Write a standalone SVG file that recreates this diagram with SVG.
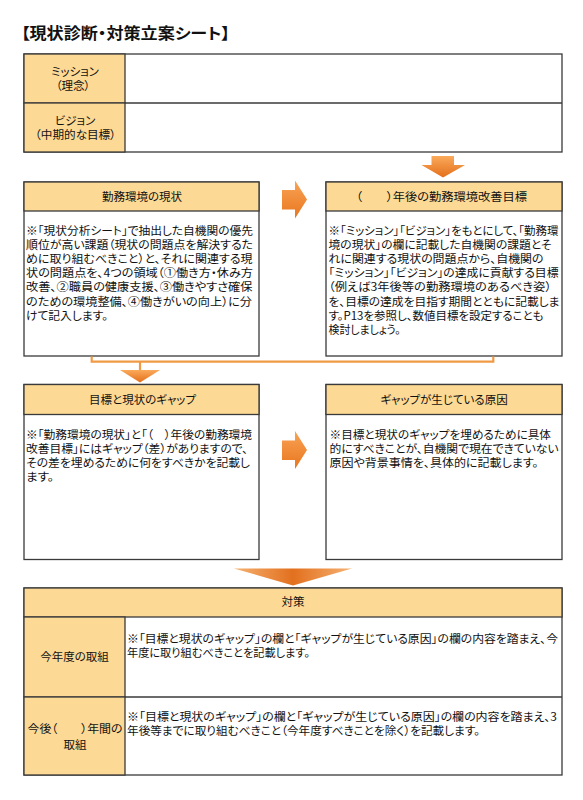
<svg xmlns="http://www.w3.org/2000/svg" width="583" height="800" viewBox="0 0 583 800">
<style>
text{font-family:"Noto Sans CJK JP","Noto Sans",sans-serif;fill:#111;font-feature-settings:"palt";}
.t{font-size:15.5px;font-weight:bold;}
.h{font-size:11.5px;text-anchor:middle;}
.b{font-size:11.5px;}
.box{fill:#fff;stroke:#3a3a3a;stroke-width:1.3;}
.hd{fill:#FCD995;stroke:#3a3a3a;stroke-width:1.3;}
.ln{fill:none;stroke:#3a3a3a;stroke-width:1.3;}
.con{fill:none;stroke:#F09A45;stroke-width:2.2;}
</style>
<defs>
<linearGradient id="gv" x1="0" y1="0" x2="0" y2="1"><stop offset="0" stop-color="#FAAA5C"/><stop offset="1" stop-color="#E46F1A"/></linearGradient>
<linearGradient id="gh" x1="0" y1="0" x2="0" y2="1"><stop offset="0" stop-color="#F9A355"/><stop offset="1" stop-color="#E8761F"/></linearGradient>
<linearGradient id="gb" x1="0" y1="0" x2="1" y2="0"><stop offset="0" stop-color="#F6B272"/><stop offset="0.5" stop-color="#E2701E"/><stop offset="1" stop-color="#F6B272"/></linearGradient>
</defs>
<rect width="583" height="800" fill="#fff"/>
<text class="t" x="21" y="39" textLength="209" lengthAdjust="spacingAndGlyphs">【現状診断・対策立案シート】</text>

<g id="mission-vision">
<rect class="box" x="24" y="54" width="538" height="98"/>
<rect class="hd" x="24" y="54" width="101" height="49"/>
<rect class="hd" x="24" y="103" width="101" height="49"/>
<line class="ln" x1="125" y1="103" x2="562" y2="103"/>
<text class="h" x="75" y="76">ミッション</text>
<text class="h" x="73" y="90">（理念）</text>
<text class="h" x="75" y="125">ビジョン</text>
<text class="h" x="75.5" y="139" textLength="81" lengthAdjust="spacingAndGlyphs">（中期的な目標）</text>
</g>

<g id="current">
<rect class="box" x="24" y="182" width="235" height="174"/>
<rect class="hd" x="24" y="182" width="235" height="29"/>
<text class="h" x="142" y="200.5">勤務環境の現状</text>
<text class="b" x="26" y="235" textLength="227" lengthAdjust="spacingAndGlyphs">※「現状分析シート」で抽出した自機関の優先</text>
<text class="b" x="26" y="249.1" textLength="227" lengthAdjust="spacingAndGlyphs">順位が高い課題（現状の問題点を解決するた</text>
<text class="b" x="26" y="263.2" textLength="226.5" lengthAdjust="spacingAndGlyphs">めに取り組むべきこと）と、それに関連する現</text>
<text class="b" x="26" y="277.3" textLength="227" lengthAdjust="spacingAndGlyphs">状の問題点を、4つの領域（①働き方・休み方</text>
<text class="b" x="26" y="291.4" textLength="226.5" lengthAdjust="spacingAndGlyphs">改善、②職員の健康支援、③働きやすさ確保</text>
<text class="b" x="26" y="305.5" textLength="226" lengthAdjust="spacingAndGlyphs">のための環境整備、④働きがいの向上）に分</text>
<text class="b" x="26" y="319.6" textLength="82" lengthAdjust="spacingAndGlyphs">けて記入します。</text>
</g>

<g id="target">
<rect class="box" x="326" y="182" width="236" height="174"/>
<rect class="hd" x="326" y="182" width="236" height="29"/>
<text class="b" x="356" y="200.5" textLength="171" lengthAdjust="spacingAndGlyphs">（　　）年後の勤務環境改善目標</text>
<text class="b" x="328.5" y="235" textLength="230" lengthAdjust="spacingAndGlyphs">※「ミッション」「ビジョン」をもとにして、「勤務環</text>
<text class="b" x="328.5" y="249.1" textLength="223" lengthAdjust="spacingAndGlyphs">境の現状」の欄に記載した自機関の課題とそ</text>
<text class="b" x="328.5" y="263.2" textLength="215" lengthAdjust="spacingAndGlyphs">れに関連する現状の問題点から、自機関の</text>
<text class="b" x="328.5" y="277.3" textLength="230" lengthAdjust="spacingAndGlyphs">「ミッション」「ビジョン」の達成に貢献する目標</text>
<text class="b" x="328.5" y="291.4" textLength="223" lengthAdjust="spacingAndGlyphs">（例えば3年後等の勤務環境のあるべき姿）</text>
<text class="b" x="328.5" y="305.5" textLength="231" lengthAdjust="spacingAndGlyphs">を、目標の達成を目指す期間とともに記載しま</text>
<text class="b" x="328.5" y="319.6" textLength="215" lengthAdjust="spacingAndGlyphs">す。P13を参照し、数値目標を設定することも</text>
<text class="b" x="328.5" y="333.7" textLength="72" lengthAdjust="spacingAndGlyphs">検討しましょう。</text>
</g>

<g id="gap">
<rect class="box" x="24" y="384.5" width="235" height="175"/>
<rect class="hd" x="24" y="384.5" width="235" height="30"/>
<text class="h" x="142.5" y="404">目標と現状のギャップ</text>
<text class="b" x="26" y="439" textLength="226" lengthAdjust="spacingAndGlyphs">※「勤務環境の現状」と「（　）年後の勤務環境</text>
<text class="b" x="26" y="453.1" textLength="222" lengthAdjust="spacingAndGlyphs">改善目標」にはギャップ（差）がありますので、</text>
<text class="b" x="26" y="467.2" textLength="224" lengthAdjust="spacingAndGlyphs">その差を埋めるために何をすべきかを記載し</text>
<text class="b" x="26" y="481.3" textLength="28" lengthAdjust="spacingAndGlyphs">ます。</text>
</g>

<g id="cause">
<rect class="box" x="326" y="384.5" width="236" height="175"/>
<rect class="hd" x="326" y="384.5" width="236" height="30"/>
<text class="h" x="444" y="404">ギャップが生じている原因</text>
<text class="b" x="329.5" y="439" textLength="221.5" lengthAdjust="spacingAndGlyphs">※目標と現状のギャップを埋めるために具体</text>
<text class="b" x="329.5" y="453.1" textLength="229" lengthAdjust="spacingAndGlyphs">的にすべきことが、自機関で現在できていない</text>
<text class="b" x="329.5" y="467.2" textLength="209" lengthAdjust="spacingAndGlyphs">原因や背景事情を、具体的に記載します。</text>
</g>

<g id="measures">
<rect class="box" x="24" y="588" width="538" height="187"/>
<rect class="hd" x="24" y="588" width="538" height="29"/>
<rect class="hd" x="24" y="617" width="101" height="80"/>
<rect class="hd" x="24" y="697" width="101" height="78"/>
<line class="ln" x1="125" y1="697" x2="562" y2="697"/>
<text class="h" x="293" y="606">対策</text>
<text class="h" x="74.5" y="661">今年度の取組</text>
<text class="b" x="127" y="643" textLength="431" lengthAdjust="spacingAndGlyphs">※「目標と現状のギャップ」の欄と「ギャップが生じている原因」の欄の内容を踏まえ、今</text>
<text class="b" x="127" y="657.1" textLength="183" lengthAdjust="spacingAndGlyphs">年度に取り組むべきことを記載します。</text>
<text class="b" x="27.5" y="733" textLength="95" lengthAdjust="spacingAndGlyphs">今後（　　）年間の</text>
<text class="h" x="75" y="749">取組</text>
<text class="b" x="127" y="721" textLength="430" lengthAdjust="spacingAndGlyphs">※「目標と現状のギャップ」の欄と「ギャップが生じている原因」の欄の内容を踏まえ、3</text>
<text class="b" x="127" y="735.1" textLength="353" lengthAdjust="spacingAndGlyphs">年後等までに取り組むべきこと（今年度すべきことを除く）を記載します。</text>
</g>

<g id="connectors">
<polygon fill="url(#gv)" points="431.5,156 454,156 454,165 465,165 443,177.5 421.5,165 431.5,165"/>
<polygon fill="url(#gh)" points="282,190 295,190 295,180.5 307,199.5 295,218.5 295,209.5 282,209.5"/>
<polygon fill="url(#gh)" points="282,440.5 295,440.5 295,431 307,450 295,469 295,460 282,460"/>
<path class="con" d="M91.7,356.5 V361.7 H493.3 V356.5"/>
<path class="con" d="M140,361.7 V371"/>
<polygon fill="url(#gv)" points="120,370 160,370 140,382.5"/>
<polygon fill="url(#gb)" points="234,568.5 352,568.5 293,585.5"/>
</g>
</svg>
